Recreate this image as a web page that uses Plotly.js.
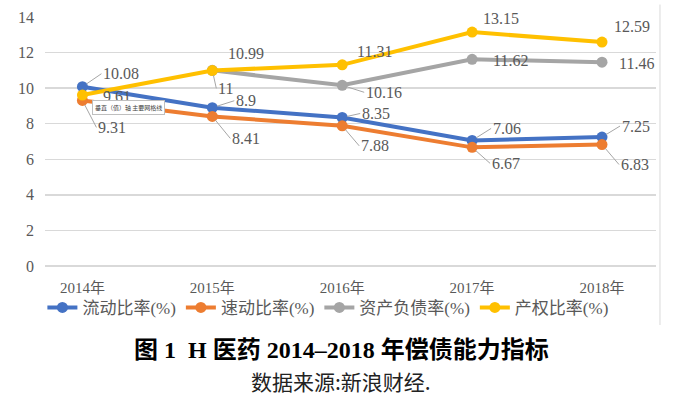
<!DOCTYPE html>
<html>
<head>
<meta charset="utf-8">
<script src="https://cdn.plot.ly/plotly-3.0.1.min.js"></script>
<style>html,body{margin:0;padding:0;background:#fff;}#chart{width:700px;height:395px;}</style>
</head>
<body>
<div id="chart"></div>
<script>
var categories = ["2014年", "2015年", "2016年", "2017年", "2018年"];
var seriesNames = ["流动比率(%)", "速动比率(%)", "资产负债率(%)", "产权比率(%)"];
var currentRatio = [10.08, 8.9, 8.35, 7.06, 7.25];
var quickRatio = [9.31, 8.41, 7.88, 6.67, 6.83];
var debtRatio = [null, 11, 10.16, 11.62, 11.46];
var equityRatio = [9.61, 10.99, 11.31, 13.15, 12.59];
var yTicks = [0, 2, 4, 6, 8, 10, 12, 14];
var titleText = "图 1  H 医药 2014–2018 年偿债能力指标";
var sourceText = "数据来源:新浪财经.";
var tipText = "垂直（值）轴 主要网格线";

var allSeries = [currentRatio, quickRatio, debtRatio, equityRatio];
var colors = ["#4472C4", "#ED7D31", "#A5A5A5", "#FFC000"];
var serif = "Liberation Serif, Noto Sans CJK SC, serif";

// label offsets in px (left edge of text relative to marker), and whether a leader line is drawn
var offsets = [
  [[19,-13,1],[22,-7,1],[18,-4,1],[19,-12,1],[18,-11,1]],
  [[14,27,1],[18,22,1],[17,20,1],[18,16,1],[17,20,1]],
  [null,[4,18,1],[22,7,1],[19,1,0],[15,1,0]],
  [[19,1,0],[14,-17,0],[13,-13,0],[9,-14,0],[10,-16,0]]
];

var traces = allSeries.map(function(vals, i){
  return {
    type: "scatter", mode: "lines+markers", name: seriesNames[i],
    x: categories, y: vals,
    line: {color: colors[i], width: 4},
    marker: {color: colors[i], size: 11},
    connectgaps: false
  };
});

var annotations = [];
allSeries.forEach(function(vals, i){
  vals.forEach(function(v, j){
    if (v === null) return;
    var o = offsets[i][j];
    annotations.push({
      x: categories[j], y: v, xref: "x", yref: "y",
      text: String(v),
      showarrow: true, arrowhead: 0, arrowwidth: 1,
      arrowcolor: o[2] ? "#a6a6a6" : "rgba(0,0,0,0)",
      ax: o[0], ay: o[1], xanchor: "left", yanchor: "middle",
      standoff: 5,
      font: {family: serif, size: 16, color: "#595959"}
    });
  });
});

annotations.push({
  xref: "paper", yref: "paper", x: 0.137, y: 0.635, xanchor: "center", yanchor: "middle",
  text: tipText, showarrow: false, bgcolor: "#ffffff", bordercolor: "#bfbfbf", borderwidth: 1, borderpad: 2,
  font: {family: "Noto Sans CJK SC", size: 6, color: "#404040"}
});
annotations.push({
  xref: "paper", yref: "paper", x: 0.485, y: -0.338, xanchor: "center", yanchor: "middle",
  text: "<b>" + titleText + "</b>", showarrow: false,
  font: {family: serif, size: 24, color: "#000000"}
});
annotations.push({
  xref: "paper", yref: "paper", x: 0.485, y: -0.462, xanchor: "center", yanchor: "middle",
  text: sourceText, showarrow: false,
  font: {family: "Noto Sans CJK SC", size: 21, color: "#222222"}
});

var layout = {
  width: 700, height: 395,
  margin: {l: 45, r: 44, t: 17, b: 129},
  paper_bgcolor: "#ffffff", plot_bgcolor: "#ffffff",
  showlegend: true,
  legend: {orientation: "h", x: 0.463, xanchor: "center", y: -0.168, yanchor: "middle",
    bgcolor: "rgba(0,0,0,0)",
    font: {family: serif, size: 17, color: "#595959"}, itemwidth: 30, tracegroupgap: 0},
  xaxis: {type: "category", showgrid: false, zeroline: false, showline: false, ticks: "",
    tickfont: {family: serif, size: 15, color: "#595959"}, ticklabelstandoff: 11},
  yaxis: {range: [0, 14], tickvals: yTicks, showgrid: true, gridcolor: "#d9d9d9", gridwidth: 1.5,
    zeroline: true, zerolinecolor: "#d9d9d9", zerolinewidth: 1.5, showline: false, ticks: "",
    tickfont: {family: serif, size: 16, color: "#595959"}, ticklabelstandoff: 10},
  shapes: [{type: "line", xref: "paper", yref: "paper", x0: 1.0065, x1: 1.0065, y0: 1.05, y1: -0.237,
    line: {color: "#d9d9d9", width: 1}}],
  annotations: annotations
};

Plotly.newPlot("chart", traces, layout, {displayModeBar: false, staticPlot: true});
</script>
</body>
</html>
